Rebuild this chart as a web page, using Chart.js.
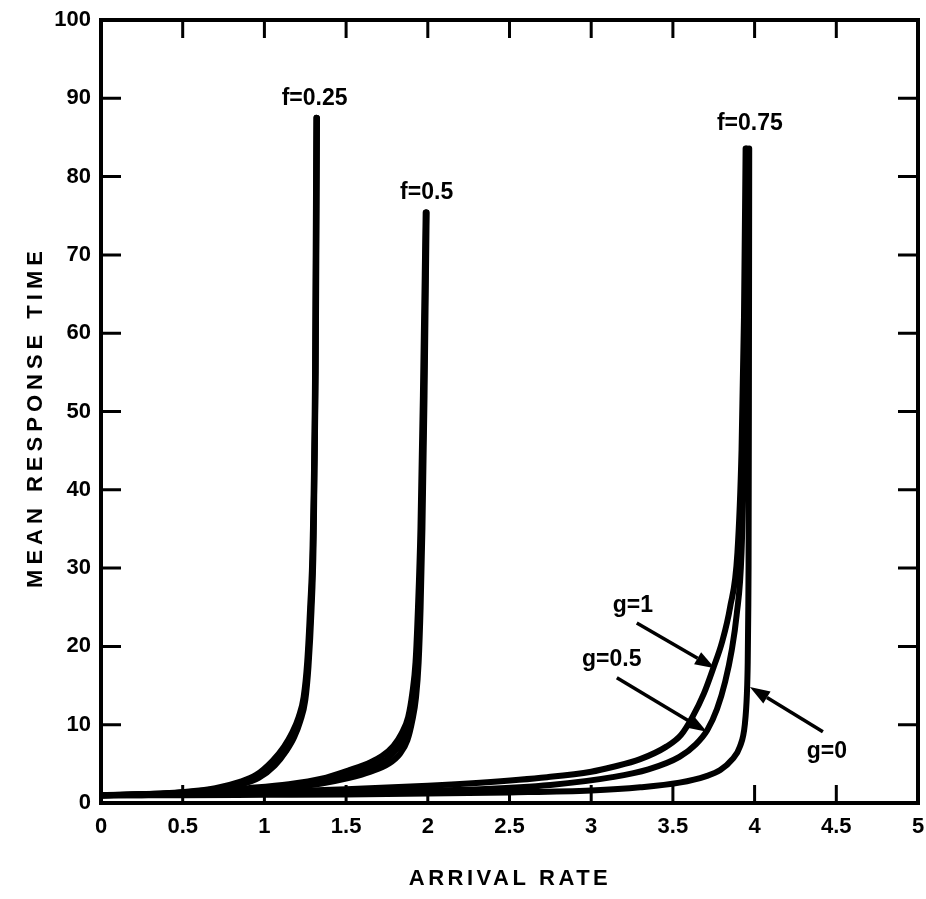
<!DOCTYPE html>
<html>
<head>
<meta charset="utf-8">
<script src="https://cdn.jsdelivr.net/npm/chart.js@4.4.1/dist/chart.umd.min.js"></script>
<style>
  html, body { margin: 0; padding: 0; background: #fff; }
  #wrap { width: 926px; height: 899px; position: relative; }
</style>
</head>
<body>
<div id="wrap"><canvas id="myChart"></canvas></div>
<script>
  // axis ticks
  var xTicks = [0, 0.5, 1, 1.5, 2, 2.5, 3, 3.5, 4, 4.5, 5];
  var yTicks = [0, 10, 20, 30, 40, 50, 60, 70, 80, 90, 100];

  // f = 0.25 (the three g curves nearly coincide)
  var f25g1X = [0, 0.25, 0.5, 0.7, 0.85, 0.95, 1.05, 1.12, 1.17, 1.21, 1.24, 1.262, 1.28, 1.295, 1.31, 1.318];
  var f25g1Y = [1.0, 1.1, 1.4, 1.9, 2.7, 3.6, 5.4, 7.2, 9.0, 11.0, 13.5, 18, 25, 33, 55, 87.5];
  var f25g05X = [0, 0.25, 0.5, 0.7, 0.855, 0.958, 1.057, 1.126, 1.176, 1.215, 1.245, 1.266, 1.284, 1.298, 1.312, 1.32];
  var f25g05Y = [1.0, 1.05, 1.35, 1.8, 2.55, 3.4, 5.1, 6.9, 8.7, 10.8, 13.3, 17.8, 24.8, 33, 55, 87.5];
  var f25g0X = [0, 0.25, 0.5, 0.7, 0.86, 0.965, 1.064, 1.132, 1.182, 1.22, 1.25, 1.27, 1.288, 1.301, 1.314, 1.322];
  var f25g0Y = [1.0, 1.0, 1.3, 1.7, 2.4, 3.2, 4.8, 6.6, 8.4, 10.5, 13.1, 17.5, 24.5, 33, 55, 87.5];

  // f = 0.5
  var f50g1X = [0, 0.5, 0.9, 1.15, 1.35, 1.52, 1.65, 1.72, 1.79, 1.84, 1.88, 1.905, 1.925, 1.94, 1.955, 1.97, 1.987];
  var f50g1Y = [1.0, 1.3, 1.9, 2.4, 3.1, 4.2, 5.2, 6.0, 7.3, 8.9, 11, 14, 18, 25, 35, 52, 75.4];
  var f50g05X = [0, 0.5, 0.9, 1.15, 1.35, 1.52, 1.65, 1.75, 1.81, 1.86, 1.895, 1.92, 1.935, 1.95, 1.962, 1.976, 1.99];
  var f50g05Y = [1.0, 1.25, 1.75, 2.2, 2.8, 3.6, 4.5, 5.6, 6.9, 8.5, 11, 14, 18, 25, 35, 52, 75.4];
  var f50g0X = [0, 0.5, 0.9, 1.15, 1.35, 1.52, 1.65, 1.76, 1.83, 1.875, 1.905, 1.928, 1.944, 1.956, 1.967, 1.98, 1.993];
  var f50g0Y = [1.0, 1.2, 1.6, 2.0, 2.5, 3.2, 4.0, 5.0, 6.3, 8.0, 10.5, 13.5, 18, 25, 35, 52, 75.4];

  // f = 0.75
  var f75g1X = [0, 0.5, 1, 1.5, 2, 2.32, 2.73, 3.0, 3.13, 3.3, 3.46, 3.55, 3.62, 3.69, 3.75, 3.8, 3.85, 3.895, 3.92, 3.935, 3.945];
  var f75g1Y = [1.0, 1.15, 1.4, 1.75, 2.2, 2.6, 3.3, 4.0, 4.6, 5.6, 7.2, 8.7, 11, 14, 17.4, 20.5, 25, 32, 45, 62, 83.6];
  var f75g05X = [0, 0.5, 1, 1.5, 2, 2.32, 2.75, 3.13, 3.35, 3.54, 3.64, 3.71, 3.77, 3.82, 3.86, 3.89, 3.92, 3.935, 3.945, 3.952];
  var f75g05Y = [1.0, 1.05, 1.2, 1.4, 1.6, 1.75, 2.3, 3.3, 4.3, 5.9, 7.5, 9.3, 12, 15.5, 19.5, 24, 32, 45, 62, 83.6];
  var f75g0X = [0, 0.5, 1, 1.5, 2, 2.5, 3.0, 3.3, 3.54, 3.7, 3.79, 3.86, 3.91, 3.94, 3.953, 3.958, 3.961, 3.963, 3.965, 3.967];
  var f75g0Y = [1.0, 1.0, 1.05, 1.1, 1.2, 1.35, 1.6, 2.0, 2.6, 3.4, 4.2, 5.5, 7.2, 10, 14, 18, 24, 30, 50, 83.6];

  // curve annotations (data units)
  var noteText = ['f=0.25', 'f=0.5', 'f=0.75', 'g=1', 'g=0.5', 'g=0'];
  var noteX = [1.307, 1.993, 3.971, 3.255, 3.126, 4.442];
  var noteY = [90.0, 77.9, 86.8, 25.2, 18.3, 6.6];
  var arrowFromX = [3.279, 3.157, 4.418];
  var arrowFromY = [23.0, 16.0, 9.1];
  var arrowToX = [3.757, 3.708, 3.971];
  var arrowToY = [17.2, 9.1, 14.8];

  function pts(xs, ys) {
    return xs.map((v, i) => ({ x: v, y: ys[i] }));
  }

  var curves = [
    ['f=0.25 g=1', f25g1X, f25g1Y], ['f=0.25 g=0.5', f25g05X, f25g05Y], ['f=0.25 g=0', f25g0X, f25g0Y],
    ['f=0.5 g=1', f50g1X, f50g1Y], ['f=0.5 g=0.5', f50g05X, f50g05Y], ['f=0.5 g=0', f50g0X, f50g0Y],
    ['f=0.75 g=1', f75g1X, f75g1Y], ['f=0.75 g=0.5', f75g05X, f75g05Y], ['f=0.75 g=0', f75g0X, f75g0Y]
  ];

  var FONT = '"Liberation Sans", Arial, sans-serif';

  function arrow(ctx, x0, y0, x1, y1) {
    var ang = Math.atan2(y1 - y0, x1 - x0);
    var hl = 20, hw = 7;
    var bx = x1 - hl * Math.cos(ang), by = y1 - hl * Math.sin(ang);
    ctx.beginPath();
    ctx.moveTo(x0, y0);
    ctx.lineTo(bx, by);
    ctx.stroke();
    ctx.beginPath();
    ctx.moveTo(x1, y1);
    ctx.lineTo(bx + hw * Math.sin(ang), by - hw * Math.cos(ang));
    ctx.lineTo(bx - hw * Math.sin(ang), by + hw * Math.cos(ang));
    ctx.closePath();
    ctx.fill();
  }

  // frame, inward ticks, titles and labels
  var decor = {
    id: 'decor',
    afterDatasetsDraw(chart) {
      var ctx = chart.ctx, a = chart.chartArea, xs = chart.scales.x, ys = chart.scales.y;
      ctx.save();
      ctx.strokeStyle = '#000';
      ctx.fillStyle = '#000';
      ctx.lineWidth = 4;
      ctx.strokeRect(a.left, a.top, a.right - a.left, a.bottom - a.top);
      ctx.lineWidth = 3;
      ctx.beginPath();
      xTicks.forEach(function (t) {
        var p = xs.getPixelForValue(t);
        if (p <= a.left + 2 || p >= a.right - 2) return;
        ctx.moveTo(p, a.bottom); ctx.lineTo(p, a.bottom - 18);
        ctx.moveTo(p, a.top); ctx.lineTo(p, a.top + 18);
      });
      yTicks.forEach(function (t) {
        var p = ys.getPixelForValue(t);
        if (p <= a.top + 2 || p >= a.bottom - 2) return;
        ctx.moveTo(a.left, p); ctx.lineTo(a.left + 20, p);
        ctx.moveTo(a.right, p); ctx.lineTo(a.right - 20, p);
      });
      ctx.stroke();

      // arrows
      ctx.lineWidth = 3.5;
      arrowFromX.forEach(function (v, i) {
        arrow(ctx, xs.getPixelForValue(v), ys.getPixelForValue(arrowFromY[i]),
          xs.getPixelForValue(arrowToX[i]), ys.getPixelForValue(arrowToY[i]));
      });

      // curve labels
      ctx.font = 'bold 23px ' + FONT;
      ctx.textAlign = 'center';
      ctx.textBaseline = 'middle';
      noteText.forEach(function (s, i) {
        ctx.fillText(s, xs.getPixelForValue(noteX[i]), ys.getPixelForValue(noteY[i]));
      });

      // axis titles
      ctx.font = 'bold 22px ' + FONT;
      ctx.letterSpacing = '3.5px';
      ctx.fillText('ARRIVAL RATE', 510, 879);
      ctx.letterSpacing = '5px';
      ctx.translate(36, 417);
      ctx.rotate(-Math.PI / 2);
      ctx.fillText('MEAN RESPONSE TIME', 0, 0);
      ctx.restore();
    }
  };

  var ctx = document.getElementById('myChart').getContext('2d');

  var myChart = new Chart(ctx, {
    type: 'line',
    data: {
      datasets: curves.map(function (c) {
        return {
          label: c[0],
          data: pts(c[1], c[2]),
          borderColor: '#000',
          borderWidth: 6,
          pointRadius: 0,
          cubicInterpolationMode: 'monotone',
          fill: false,
          borderCapStyle: 'round',
          borderJoinStyle: 'round'
        };
      })
    },
    options: {
      responsive: true,
      maintainAspectRatio: false,
      animation: false,
      layout: { padding: { top: 20, right: 8, left: 0, bottom: 0 } },
      plugins: { legend: { display: false }, tooltip: { enabled: false } },
      scales: {
        x: {
          type: 'linear',
          min: 0, max: 5,
          afterFit: function (s) { s.height = 96; s.paddingLeft = 0; s.paddingRight = 0; },
          afterBuildTicks: function (s) { s.ticks = xTicks.map(v => ({ value: v })); },
          grid: { display: false, drawTicks: false },
          border: { display: false },
          ticks: {
            autoSkip: false, maxRotation: 0, padding: 11, color: '#000',
            font: { family: FONT, size: 22, weight: 'bold' },
            callback: v => String(v)
          }
        },
        y: {
          min: 0, max: 100,
          afterFit: function (s) { s.width = 101; s.paddingTop = 0; s.paddingBottom = 0; },
          afterBuildTicks: function (s) { s.ticks = yTicks.map(v => ({ value: v })); },
          grid: { display: false, drawTicks: false },
          border: { display: false },
          ticks: {
            autoSkip: false, padding: 10, color: '#000',
            font: { family: FONT, size: 22, weight: 'bold' },
            callback: v => String(v)
          }
        }
      }
    },
    plugins: [decor]
  });
</script>
</body>
</html>
